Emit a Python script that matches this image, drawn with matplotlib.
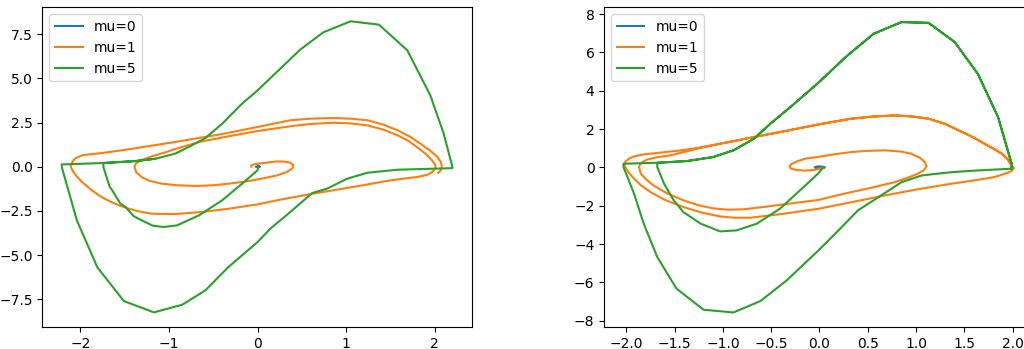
import matplotlib
matplotlib.use("Agg")
import matplotlib.pyplot as plt

# Portrait de phase de Van der Pol
labels = ["mu=0", "mu=1", "mu=5"]

# --- graphe de gauche (pas grossier) ---
g_mu0_x = [0.02, 0.014, 0.0, -0.014, -0.02, -0.014, 0.0, 0.014, 0.02]
g_mu0_y = [0.0, -0.014, -0.02, -0.014, 0.0, 0.014, 0.02, 0.014, 0.0]

g_mu1_x = [-0.07, -0.07, -0.03, 0.05, 0.22, 0.30, 0.37, 0.40, 0.40, 0.39, 0.33, 0.22,
           0.10, 0.0, -0.15, -0.33, -0.50, -0.70, -0.90, -1.08, -1.22, -1.31, -1.37,
           -1.39, -1.37, -1.30, -1.19, -1.05, -0.93, -0.66, -0.33, 0.0, 0.37, 0.60,
           0.86, 1.05, 1.24, 1.42, 1.58, 1.70, 1.80, 1.90, 1.97, 2.00, 2.01, 2.00,
           1.97, 1.92, 1.85, 1.80, 1.50, 1.12, 0.62, 0.30, 0.0, -0.33, -0.63, -0.93,
           -1.19, -1.35, -1.49, -1.63, -1.76, -1.88, -1.98, -2.05, -2.09, -2.11, -2.10,
           -2.06, -1.97, -1.78, -1.49, -0.93, -0.40, 0.0, 0.37, 0.60, 0.86, 1.05,
           1.24, 1.42, 1.58, 1.72, 1.84, 1.95, 2.03, 2.07, 2.08, 2.07, 2.04]
g_mu1_y = [0.0, 0.08, 0.15, 0.20, 0.30, 0.29, 0.23, 0.10, 0.0, -0.10, -0.30, -0.49,
           -0.62, -0.72, -0.85, -0.96, -1.05, -1.09, -1.05, -0.96, -0.80, -0.58, -0.30,
           0.0, 0.20, 0.40, 0.59, 0.80, 1.0, 1.40, 1.72, 2.02, 2.29, 2.42,
           2.49, 2.45, 2.34, 2.10, 1.78, 1.47, 1.11, 0.72, 0.36, 0.15, 0.0, -0.15,
           -0.30, -0.45, -0.53, -0.58, -0.77, -1.11, -1.53, -1.82, -2.13, -2.38, -2.56, -2.68,
           -2.66, -2.52, -2.32, -2.05, -1.72, -1.30, -0.87, -0.50, -0.20, 0.05, 0.19,
           0.47, 0.66, 0.76, 0.96, 1.40, 1.85, 2.25, 2.63, 2.72, 2.76, 2.72,
           2.63, 2.38, 2.06, 1.70, 1.30, 0.90, 0.55, 0.25, 0.0, -0.20, -0.34]

g_mu5_x = [0.01, 0.0, -0.175, -0.40, -0.66, -0.91, -1.06, -1.18, -1.31, -1.40, -1.49,
           -1.55, -1.64, -1.67, -1.74, -1.74, -1.38, -1.155, -0.93, -0.78, -0.59, -0.40,
           -0.175, 0.0, 0.48, 0.74, 1.05, 1.37, 1.69, 1.95, 2.10, 2.20, 2.197, 1.576,
           1.24, 1.01, 0.785, 0.616, 0.37, 0.145, 0.0, -0.33, -0.59, -0.85, -1.17,
           -1.51, -1.81, -2.04, -2.21, -2.21, -1.74, -1.38, -1.155]
g_mu5_y = [0.06, -0.20, -0.96, -1.90, -2.75, -3.32, -3.41, -3.34, -3.03, -2.79, -2.28,
           -2.08, -1.34, -1.13, -0.02, 0.21, 0.32, 0.45, 0.74, 1.11, 1.62, 2.43,
           3.57, 4.32, 6.62, 7.60, 8.23, 8.04, 6.59, 4.04, 1.89, -0.02, -0.08, -0.17,
           -0.34, -0.68, -1.24, -1.49, -2.56, -3.50, -4.26, -5.68, -7.00, -7.81, -8.24,
           -7.60, -5.68, -3.03, -0.02, 0.13, 0.21, 0.32, 0.45]

# --- graphe de droite (pas fin) ---
d_mu0_x = [0.05, 0.035, 0.0, -0.035, -0.05, -0.035, 0.0, 0.035, 0.05]
d_mu0_y = [0.0, -0.035, -0.05, -0.035, 0.0, 0.035, 0.05, 0.035, 0.0]

d_mu1_x = [0.04, -0.05, -0.15, -0.25, -0.30, -0.31, -0.29, -0.23, -0.14, -0.01, 0.15,
           0.33, 0.50, 0.68, 0.85, 0.95, 1.04, 1.09, 1.11, 1.08, 1.02, 0.92, 0.78,
           0.55, 0.33, 0.15, -0.01, -0.37, -0.60, -0.79, -0.95, -1.10, -1.25, -1.41,
           -1.58, -1.72, -1.80, -1.85, -1.87, -1.85, -1.79, -1.68, -1.54, -1.20, -0.68,
           -0.35, -0.01, 0.33, 0.55, 0.78, 0.95, 1.13, 1.30, 1.44, 1.58, 1.71, 1.81,
           1.89, 1.95, 1.99, 2.01, 1.99, 1.95, 1.85, 1.78, 1.60, 1.37, 1.00, 0.68,
           0.35, -0.01, -0.37, -0.72, -0.88, -1.03, -1.22, -1.41, -1.60, -1.75, -1.85,
           -1.92, -1.98, -2.02, -2.01, -1.97, -1.92, -1.82, -1.68, -1.45, -1.20, -0.68,
           -0.35, -0.01, 0.33, 0.55, 0.78, 0.95, 1.13, 1.30, 1.44, 1.58, 1.71, 1.81,
           1.89, 1.95, 1.99, 2.01]
d_mu1_y = [-0.02, -0.13, -0.17, -0.13, -0.05, 0.05, 0.17, 0.32, 0.46, 0.55, 0.68,
           0.80, 0.86, 0.89, 0.82, 0.71, 0.50, 0.28, 0.05, -0.15, -0.33, -0.53, -0.77,
           -1.05, -1.29, -1.50, -1.70, -1.93, -2.08, -2.19, -2.21, -2.14, -1.98, -1.72,
           -1.35, -0.94, -0.60, -0.33, 0.02, 0.22, 0.40, 0.53, 0.63, 1.06, 1.58,
           1.90, 2.24, 2.54, 2.65, 2.71, 2.66, 2.54, 2.27, 1.93, 1.60, 1.23, 0.95,
           0.71, 0.42, 0.10, -0.05, -0.18, -0.28, -0.45, -0.54, -0.68, -0.85, -1.16, -1.46,
           -1.80, -2.16, -2.42, -2.63, -2.63, -2.56, -2.36, -2.07, -1.70, -1.29, -0.93,
           -0.59, -0.25, 0.10, 0.30, 0.46, 0.57, 0.68, 0.75, 0.88, 1.06, 1.58,
           1.90, 2.24, 2.54, 2.65, 2.71, 2.66, 2.54, 2.27, 1.93, 1.60, 1.23, 0.95,
           0.71, 0.42, 0.10, -0.05]

d_mu5_x = [0.04, -0.01, -0.165, -0.41, -0.65, -0.86, -1.03, -1.23, -1.41, -1.51, -1.61,
           -1.68, -1.68, -1.37, -1.10, -0.89, -0.68, -0.51, -0.30, -0.01, 0.27, 0.56,
           0.85, 1.13, 1.40, 1.64, 1.85, 1.99, 1.99, 1.64, 1.37, 1.06, 0.85, 0.64, 0.40,
           0.196, -0.01, -0.34, -0.61, -0.89, -1.20, -1.48, -1.68, -1.82, -1.92, -2.03,
           -2.03, -1.68, -1.37, -1.10, -0.89, -0.68, -0.51, -0.30, -0.01, 0.27, 0.56,
           0.85, 1.13, 1.40, 1.64, 1.85, 1.99, 1.99]
d_mu5_y = [0.0, -0.30, -1.03, -2.16, -2.94, -3.29, -3.34, -2.94, -2.33, -1.72, -0.85,
           0.02, 0.24, 0.33, 0.54, 0.89, 1.49, 2.27, 3.15, 4.42, 5.75, 6.97,
           7.58, 7.54, 6.54, 4.88, 2.62, 0.19, -0.07, -0.16, -0.25, -0.42, -0.77, -1.46, -2.24,
           -3.29, -4.33, -5.90, -6.97, -7.57, -7.43, -6.33, -4.68, -2.94, -1.38, 0.02,
           0.19, 0.24, 0.33, 0.54, 0.89, 1.49, 2.27, 3.15, 4.42, 5.75, 6.97,
           7.58, 7.54, 6.54, 4.88, 2.62, 0.19, -0.07]

fig = plt.figure(figsize=(10.24, 3.49), dpi=100)
ax1 = fig.add_axes([0.0413, 0.063, 0.4196, 0.916])
ax2 = fig.add_axes([0.590, 0.063, 0.4196, 0.916])

ax1.plot(g_mu0_x, g_mu0_y, label=labels[0])
ax1.plot(g_mu1_x, g_mu1_y, label=labels[1])
ax1.plot(g_mu5_x, g_mu5_y, label=labels[2])
ax1.set_xlim(-2.43, 2.42)
ax1.set_ylim(-9.07, 9.02)
ax1.legend(loc="upper left")

ax2.plot(d_mu0_x, d_mu0_y, label=labels[0])
ax2.plot(d_mu1_x, d_mu1_y, label=labels[1])
ax2.plot(d_mu5_x, d_mu5_y, label=labels[2])
ax2.set_xlim(-2.23, 2.22)
ax2.set_ylim(-8.33, 8.35)
ax2.legend(loc="upper left")

fig.savefig("out.png", dpi=100)
